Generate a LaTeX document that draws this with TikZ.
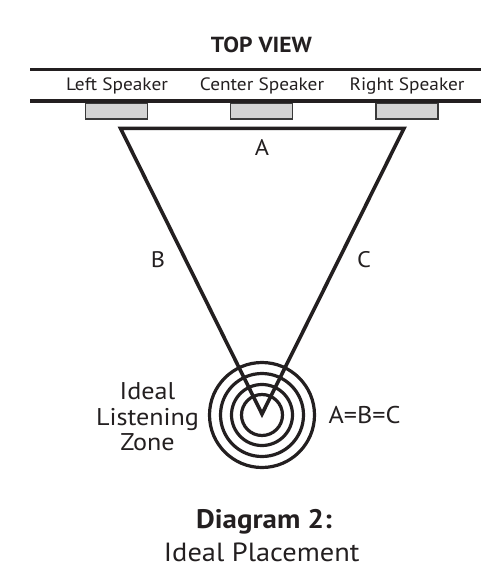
\documentclass[tikz,border=0pt]{standalone}
\usepackage{fontspec}
\setmainfont[FakeStretch=1.08]{PT Sans}
\definecolor{ink}{HTML}{231F20}
\definecolor{boxfill}{HTML}{D4D4D4}
\definecolor{boxline}{HTML}{3A3A3A}
\begin{document}
\begin{tikzpicture}[x=1pt,y=-1pt,
  lbl/.style={text=ink,inner sep=0pt,anchor=base,font=\fontsize{17.9}{18}\selectfont},
  letter/.style={text=ink,inner sep=0pt,anchor=base,font=\fontsize{22.5}{23}\selectfont},
  big/.style={text=ink,inner sep=0pt,anchor=base,font=\fontsize{24.2}{25}\selectfont},
  wall/.style={draw=ink,line width=3.5pt},
  spk/.style={draw=boxline,fill=boxfill,line width=1.3pt,minimum width=62pt,minimum height=15.5pt,inner sep=0pt,anchor=north},
  tri/.style={draw=ink,line width=3.6pt,line join=miter},
  ring/.style={draw=ink,line width=3.2pt}]
\useasboundingbox (0,0) rectangle (481,575);
% title
\node[text=ink,inner sep=0pt,anchor=base,font=\fontsize{21.8}{22}\selectfont\bfseries] (title) at (261.5,52.7) {TOP VIEW};
% wall
\coordinate (w1a) at (30,69.5);
\coordinate (w1b) at (481,69.5);
\coordinate (w2a) at (30,101);
\coordinate (w2b) at (481,101);
\draw[wall] (w1a) -- (w1b);
\draw[wall] (w2a) -- (w2b);
% labels
\node[lbl] (lL) at (117,90.7) {Left Speaker};
\node[lbl] (lC) at (262,90.7) {Center Speaker};
\node[lbl] (lR) at (407,90.7) {Right Speaker};
% speakers
\node[spk] (sL) at (116.5,102.8) {};
\node[spk] (sC) at (261.5,102.8) {};
\node[spk] (sR) at (407,102.8) {};
% triangle
\coordinate (tl) at (120.5,128.3);
\coordinate (tr) at (404,128.3);
\coordinate (ap) at (262,414);
\draw[tri] (tl) -- (tr) -- (ap) -- cycle;
% rings
\foreach \r in {52.5,41.5,30.5,20.5} \draw[ring] (262,415) circle (\r);
% side labels
\node[letter] (A) at (262,155) {A};
\node[letter] (B) at (158,267.3) {B};
\node[letter] (C) at (364,267.3) {C};
\node[big] (z1) at (147.5,399.5) {Ideal};
\node[big] (z2) at (147.5,425) {Listening};
\node[big] (z3) at (147.5,450) {Zone};
\node[big] (eq) at (364.5,423.3) {A=B=C};
% caption
\node[text=ink,inner sep=0pt,anchor=base,font=\fontsize{26.8}{27}\selectfont\bfseries] (cap1) at (264,528.3) {Diagram 2:};
\node[text=ink,inner sep=0pt,anchor=base,font=\fontsize{26.3}{27}\selectfont] (cap2) at (261.7,561.7) {Ideal Placement};
\end{tikzpicture}
\end{document}
